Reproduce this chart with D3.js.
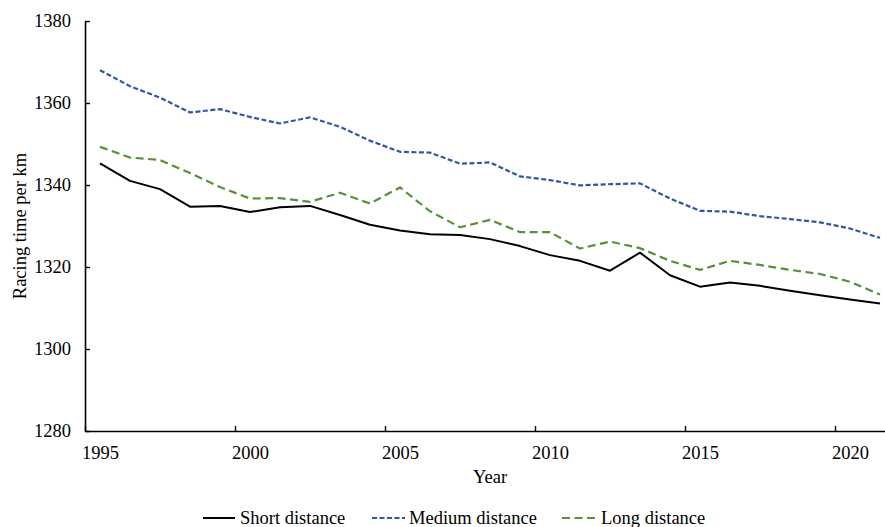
<!DOCTYPE html>
<html>
<head>
<meta charset="utf-8">
<script src="https://cdn.jsdelivr.net/npm/d3@7/dist/d3.min.js"></script>
<style>
  html, body { margin: 0; padding: 0; background: #fff; }
  svg { display: block; }
  text { font-family: "Liberation Serif", "Times New Roman", serif; fill: #000; }
</style>
</head>
<body>
<svg id="chart" width="885" height="527"></svg>
<script>
// Racing time per km by year, three distance classes
const years = d3.range(1995, 2022);
const shortDistance = [
  1345.3, 1341.0, 1339.0, 1334.7, 1334.9, 1333.4, 1334.6, 1334.9, 1332.7, 1330.3,
  1328.9, 1328.0, 1327.8, 1326.8, 1325.1, 1322.9, 1321.5, 1319.1, 1323.5, 1318.0,
  1315.2, 1316.2, 1315.4, 1314.2, 1313.1, 1312.1, 1311.1
];
const mediumDistance = [
  1368.0, 1364.1, 1361.3, 1357.7, 1358.5, 1356.6, 1355.0, 1356.5, 1354.2, 1350.8,
  1348.1, 1347.9, 1345.2, 1345.5, 1342.1, 1341.2, 1339.9, 1340.2, 1340.4, 1336.7,
  1333.7, 1333.5, 1332.4, 1331.7, 1330.9, 1329.4, 1327.1
];
const longDistance = [
  1349.3, 1346.7, 1346.1, 1342.9, 1339.5, 1336.7, 1336.8, 1335.9, 1338.1, 1335.5,
  1339.4, 1333.6, 1329.7, 1331.5, 1328.5, 1328.5, 1324.5, 1326.2, 1324.6, 1321.5,
  1319.3, 1321.5, 1320.5, 1319.3, 1318.3, 1316.4, 1313.3
];
const yTicks = [1280, 1300, 1320, 1340, 1360, 1380];
const xLabelYears = [1995, 2000, 2005, 2010, 2015, 2020];

const seriesList = [
  { name: "Short distance",  values: shortDistance,  color: "#000000", dash: null,  width: 2 },
  { name: "Medium distance", values: mediumDistance, color: "#3057A5", dash: "5,2.5", width: 2.2 },
  { name: "Long distance",   values: longDistance,   color: "#5B8E3B", dash: "8,4.5", width: 2.2 }
];

const svg = d3.select("#chart");
const plot = { left: 85, right: 895, top: 21, bottom: 431 };

// category axis: each year occupies a one-year band, ticks sit on band edges
const x = d3.scaleLinear()
  .domain([years[0] - 0.5, years[years.length - 1] + 0.5])
  .range([plot.left, plot.right]);
const y = d3.scaleLinear()
  .domain([1280, 1380])
  .range([plot.bottom, plot.top]);

const fontSize = 18.5;

// y axis
const yAxis = svg.append("g")
  .attr("transform", `translate(${plot.left},0)`)
  .call(d3.axisLeft(y).tickValues(yTicks).tickSizeInner(-5).tickSizeOuter(0).tickPadding(14).tickFormat(d3.format("d")));
yAxis.select(".domain").attr("stroke", "#000").attr("stroke-width", 1.6);
yAxis.selectAll(".tick line").attr("stroke", "#000").attr("stroke-width", 1.4);
yAxis.selectAll(".tick text").attr("font-size", fontSize).attr("font-family", "Liberation Serif");

// x axis: tick marks on band boundaries every 5 years
const xAxisTicks = svg.append("g")
  .attr("transform", `translate(0,${plot.bottom})`)
  .call(d3.axisBottom(x).tickValues(xLabelYears.map(v => v - 0.5)).tickSizeInner(-5).tickSizeOuter(0).tickFormat(""));
xAxisTicks.select(".domain").attr("stroke", "#000").attr("stroke-width", 1.6);
xAxisTicks.selectAll(".tick line").attr("stroke", "#000").attr("stroke-width", 1.4);

// x labels centred on their year
const xAxisLabels = svg.append("g")
  .attr("transform", `translate(0,${plot.bottom})`)
  .call(d3.axisBottom(x).tickValues(xLabelYears).tickSize(0).tickPadding(14.5).tickFormat(d3.format("d")));
xAxisLabels.select(".domain").remove();
xAxisLabels.selectAll(".tick text").attr("font-size", fontSize).attr("font-family", "Liberation Serif");

// axis titles
svg.append("text")
  .attr("x", 490).attr("y", 483)
  .attr("text-anchor", "middle")
  .attr("font-size", fontSize)
  .text("Year");
svg.append("text")
  .attr("transform", `translate(26,${(plot.top + plot.bottom) / 2}) rotate(-90)`)
  .attr("text-anchor", "middle")
  .attr("font-size", fontSize)
  .text("Racing time per km");

// series lines
const line = d3.line()
  .x((d, i) => x(years[i]))
  .y(d => y(d));

seriesList.forEach(s => {
  svg.append("path")
    .datum(s.values)
    .attr("fill", "none")
    .attr("stroke", s.color)
    .attr("stroke-width", s.width)
    .attr("stroke-dasharray", s.dash)
    .attr("stroke-linejoin", "round")
    .attr("d", line);
});

// legend
const legendY = 518;
const legendItems = [
  { x0: 203, x1: 235, tx: 240 },
  { x0: 372, x1: 405, tx: 409 },
  { x0: 562, x1: 597, tx: 601 }
];
seriesList.forEach((s, i) => {
  const pos = legendItems[i];
  svg.append("line")
    .attr("x1", pos.x0).attr("x2", pos.x1)
    .attr("y1", legendY).attr("y2", legendY)
    .attr("stroke", s.color)
    .attr("stroke-width", s.width)
    .attr("stroke-dasharray", s.dash);
  svg.append("text")
    .attr("x", pos.tx).attr("y", legendY + 6)
    .attr("font-size", fontSize)
    .text(s.name);
});
</script>
</body>
</html>
